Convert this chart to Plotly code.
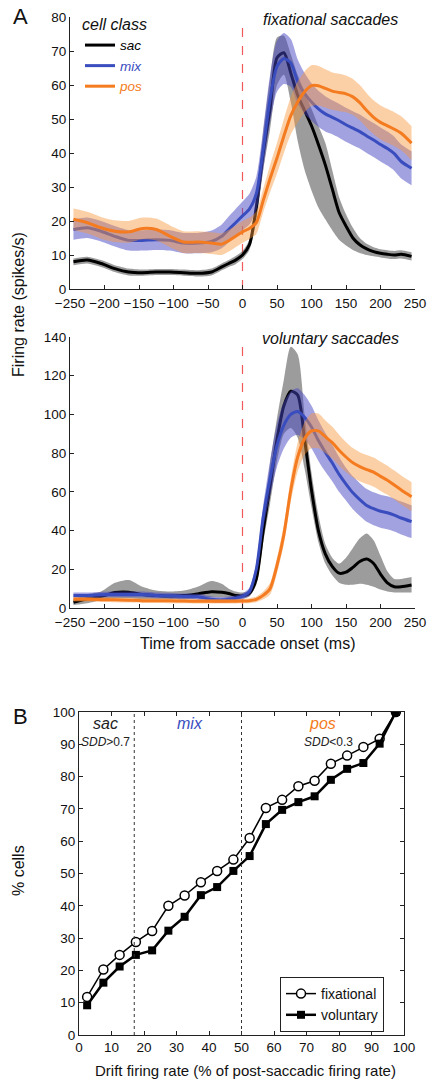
import plotly.graph_objects as go

# ---------------- data: panel A (time from saccade onset, ms) ----------------
T = [-245, -225, -205, -185, -165, -145, -125, -105, -85, -65, -45, -30, -20, -10, 0,
     10, 20, 30, 40, 50, 60, 70, 80, 90, 100, 110, 120, 130, 140, 150, 160, 170, 180,
     190, 200, 210, 220, 230, 245]

# fixational saccades
fix_sac_mean = [8.0, 8.5, 7.5, 6.0, 5.0, 4.8, 5.0, 5.0, 4.8, 4.6, 5.0, 6.5, 7.5, 8.5, 10.0,
                13.0, 24.0, 40.0, 53.0, 68.0, 69.5, 63.5, 57.0, 52.5, 48.0, 42.5, 36.5, 29.5, 22.5,
                18.5, 15.0, 13.0, 11.8, 11.0, 10.5, 10.2, 10.0, 10.2, 9.6]
fix_sac_lo = [7.0, 7.5, 6.5, 5.0, 4.0, 3.9, 4.1, 4.1, 3.9, 3.7, 4.0, 5.5, 6.5, 7.3, 8.8,
              11.5, 20.0, 35.0, 47.0, 60.0, 63.0, 55.0, 43.5, 35.0, 29.0, 24.0, 20.5, 17.3, 14.5,
              12.8, 11.5, 10.6, 10.0, 9.6, 9.3, 9.0, 8.8, 9.0, 8.4]
fix_sac_hi = [9.0, 9.5, 8.5, 7.0, 6.0, 5.7, 5.9, 5.9, 5.7, 5.5, 6.0, 7.5, 8.5, 9.7, 11.2,
              14.5, 28.0, 46.0, 62.0, 74.0, 74.5, 69.0, 63.0, 58.0, 53.0, 48.0, 43.0, 35.0, 27.0,
              22.0, 18.0, 15.0, 13.3, 12.3, 11.7, 11.4, 11.2, 11.4, 10.8]
fix_mix_mean = [17.5, 18.0, 17.0, 15.5, 14.3, 14.3, 14.5, 14.3, 13.5, 13.5, 14.0, 15.5, 17.5, 19.5, 21.5,
                23.5, 28.0, 41.0, 56.0, 65.5, 67.8, 66.5, 61.0, 57.5, 55.0, 53.0, 51.5, 50.5, 49.5,
                48.3, 47.3, 46.3, 45.0, 43.8, 42.5, 41.3, 39.8, 37.5, 35.5]
fix_mix_hw = [3, 3, 3, 3, 3, 3, 3, 3, 3, 3, 3.2, 3.5, 3.8, 4, 4.2,
              4.5, 5, 6, 7, 7.5, 7.5, 7, 6.5, 6, 5.5, 5.3, 5.2, 5, 5,
              5, 5, 5, 5, 5, 5, 5, 5, 5, 5]
fix_pos_mean = [20.5, 19.5, 18.0, 17.0, 16.8, 17.8, 17.5, 15.5, 13.8, 13.8, 13.5, 13.2, 14.2, 15.5, 16.8,
                17.8, 19.5, 26.0, 32.5, 38.5, 45.0, 51.0, 55.0, 58.0, 59.8, 59.8, 59.0, 58.2, 57.8,
                57.4, 56.5, 54.8, 52.5, 50.5, 49.0, 48.0, 47.0, 45.8, 42.9]
fix_pos_hw = [3.2, 3.2, 3.2, 3.2, 3.2, 3.2, 3.2, 3.2, 3.2, 3.2, 3.2, 3.2, 3.2, 3.2, 3.2,
              3.2, 3.3, 3.5, 4, 4.5, 5, 5.5, 6, 6, 6, 5.8, 5.6, 5.5, 5.5,
              5.4, 5.3, 5.2, 5.1, 5, 5, 5, 5, 5, 5]

# voluntary saccades
vol_sac_mean = [3.0, 4.8, 6.0, 8.0, 8.2, 7.0, 6.5, 6.2, 6.4, 7.3, 8.4, 8.1, 7.5, 6.5, 6.3,
                7.5, 15.0, 40.0, 63.0, 87.0, 104.5, 112.0, 110.0, 87.0, 61.0, 40.0, 28.0, 21.5, 18.0,
                18.5, 21.0, 24.0, 25.3, 23.0, 17.5, 13.0, 11.0, 11.0, 11.9]
vol_sac_lo = [1.5, 2.5, 4.0, 5.0, 5.0, 4.5, 4.5, 4.5, 4.5, 5.0, 5.5, 5.5, 5.2, 4.8, 5.0,
              6.0, 12.0, 34.0, 54.0, 76.0, 90.0, 93.0, 88.0, 72.0, 52.0, 34.0, 23.0, 17.0, 13.0,
              12.0, 12.0, 12.5, 12.0, 11.0, 9.5, 8.5, 8.0, 8.0, 8.0]
vol_sac_hi = [4.5, 7.0, 8.5, 13.0, 14.5, 11.0, 9.0, 8.5, 9.0, 11.0, 14.0, 12.5, 10.0, 8.5, 8.0,
              9.0, 18.0, 46.0, 75.0, 98.0, 118.0, 135.0, 131.0, 100.0, 70.0, 48.0, 33.0, 26.0, 23.0,
              26.0, 31.0, 36.0, 38.5, 35.0, 27.0, 19.0, 15.0, 15.0, 16.0]
vol_mix_mean = [6.5, 6.5, 6.8, 7.0, 7.0, 7.0, 6.5, 6.3, 6.0, 5.8, 4.5, 4.2, 4.5, 5.0, 6.0,
                8.5, 20.0, 47.0, 67.0, 84.0, 94.5, 100.0, 101.5, 98.5, 93.5, 86.5, 80.5, 75.0, 69.0,
                64.0, 59.5, 56.0, 53.0, 51.3, 50.0, 49.2, 48.0, 46.5, 44.6]
vol_mix_hw = [1.5, 1.5, 1.5, 1.5, 1.5, 1.5, 1.5, 1.5, 1.5, 1.5, 1.5, 1.5, 1.5, 1.5, 1.5,
              2, 3, 6, 9, 11, 12, 12, 12, 11.5, 11, 10.5, 10, 9.5, 9,
              8.5, 8.5, 8.5, 8.5, 8.5, 8.5, 8.5, 8.5, 8.5, 8.5]
vol_pos_mean = [4.5, 4.5, 4.3, 4.2, 4.0, 3.8, 3.8, 3.7, 3.6, 3.5, 3.5, 3.5, 3.5, 3.5, 3.6,
                3.8, 4.5, 6.5, 10.0, 22.0, 38.0, 61.0, 78.0, 87.5, 91.5, 91.5, 88.5, 85.5, 81.5,
                78.0, 75.0, 73.0, 71.5, 70.2, 68.0, 66.0, 63.5, 61.0, 57.5]
vol_pos_hw = [1.2, 1.2, 1.2, 1.2, 1.2, 1.2, 1.2, 1.2, 1.2, 1.2, 1.2, 1.2, 1.2, 1.2, 1.2,
              1.3, 1.5, 2, 3, 4, 5, 6, 7.5, 8.5, 9, 9, 8.5, 8.2, 8,
              7.8, 7.6, 7.5, 7.5, 7.5, 7.5, 7.5, 7.5, 7.5, 7.5]

X_TICKS_A = [-250, -200, -150, -100, -50, 0, 50, 100, 150, 200, 250]
ONSET = 0

# ---------------- data: panel B ----------------
drift_bins = [2.5, 7.5, 12.5, 17.5, 22.5, 27.5, 32.5, 37.5, 42.5, 47.5,
              52.5, 57.5, 62.5, 67.5, 72.5, 77.5, 82.5, 87.5, 92.5, 97.5]
pct_fixational = [11.8, 20.3, 24.8, 28.8, 32.2, 40.0, 43.2, 47.3, 50.8, 54.3,
                  61.0, 70.3, 72.8, 77.0, 78.7, 84.0, 86.5, 89.2, 91.7, 100.0]
pct_voluntary = [9.2, 16.2, 21.2, 24.8, 26.2, 32.3, 36.6, 43.3, 45.8, 50.8,
                 55.4, 65.3, 69.7, 72.1, 73.9, 79.0, 82.4, 84.2, 90.2, 100.0]
class_bounds = [17, 50]

# ---------------- styling ----------------
FONT = "Liberation Sans, Arial, sans-serif"
C_SAC, C_MIX, C_POS = "#000000", "#3a4dbf", "#f47b20"
B_SAC, B_MIX, B_POS = "rgba(90,90,90,0.6)", "rgba(70,70,195,0.5)", "rgba(248,150,60,0.45)"

fig = go.Figure()


def add_class(xa, ya, mean, lo, hi, lcolor, bcolor, name, show):
    fig.add_trace(go.Scatter(x=T, y=lo, mode="lines", line=dict(width=0, shape="spline", smoothing=0.7),
                             xaxis=xa, yaxis=ya, showlegend=False, hoverinfo="skip"))
    fig.add_trace(go.Scatter(x=T, y=hi, mode="lines", line=dict(width=0, shape="spline", smoothing=0.7),
                             fill="tonexty", fillcolor=bcolor,
                             xaxis=xa, yaxis=ya, showlegend=False, hoverinfo="skip"))
    fig.add_trace(go.Scatter(x=T, y=mean, mode="lines",
                             line=dict(color=lcolor, width=3, shape="spline", smoothing=0.7),
                             xaxis=xa, yaxis=ya, name=name, showlegend=show, legend="legend"))


def lohi(mean, hw):
    return [m - h for m, h in zip(mean, hw)], [m + h for m, h in zip(mean, hw)]


sac_name = '<span style="color:#000000"><i>sac</i></span>'
mix_name = '<span style="color:#3a4dbf"><i>mix</i></span>'
pos_name = '<span style="color:#f47b20"><i>pos</i></span>'

add_class("x", "y", fix_sac_mean, fix_sac_lo, fix_sac_hi, C_SAC, B_SAC, sac_name, True)
lo, hi = lohi(fix_mix_mean, fix_mix_hw)
add_class("x", "y", fix_mix_mean, lo, hi, C_MIX, B_MIX, mix_name, True)
lo, hi = lohi(fix_pos_mean, fix_pos_hw)
add_class("x", "y", fix_pos_mean, lo, hi, C_POS, B_POS, pos_name, True)

add_class("x2", "y2", vol_sac_mean, vol_sac_lo, vol_sac_hi, C_SAC, B_SAC, sac_name, False)
lo, hi = lohi(vol_mix_mean, vol_mix_hw)
add_class("x2", "y2", vol_mix_mean, lo, hi, C_MIX, B_MIX, mix_name, False)
lo, hi = lohi(vol_pos_mean, vol_pos_hw)
add_class("x2", "y2", vol_pos_mean, lo, hi, C_POS, B_POS, pos_name, False)

# panel B
fig.add_trace(go.Scatter(x=drift_bins, y=pct_fixational, mode="lines+markers", name="fixational",
                         line=dict(color="black", width=1.5),
                         marker=dict(symbol="circle", size=9, color="white", line=dict(color="black", width=1.5)),
                         xaxis="x3", yaxis="y3", legend="legend2"))
fig.add_trace(go.Scatter(x=drift_bins, y=pct_voluntary, mode="lines+markers", name="voluntary",
                         line=dict(color="black", width=2.5),
                         marker=dict(symbol="square", size=8, color="black"),
                         xaxis="x3", yaxis="y3", legend="legend2"))

W, H = 430, 1083


def px_x(p):
    return p / W


def px_y(p):
    return 1 - p / H


axA = dict(showline=True, linecolor="#222", linewidth=1, ticks="inside", ticklen=4, tickcolor="#222",
           showgrid=False, zeroline=False, tickfont=dict(size=13.5, color="#111"), automargin=False)
axB = dict(axA, mirror="ticks")

fig.update_layout(
    width=W, height=H, template="none",
    margin=dict(l=0, r=0, t=0, b=0),
    paper_bgcolor="white", plot_bgcolor="white",
    font=dict(family=FONT, color="#111"),
    xaxis=dict(axA, domain=[px_x(70), px_x(415)], range=[-250, 250], tickvals=X_TICKS_A, anchor="y",
               ticklabelstandoff=2),
    yaxis=dict(axA, domain=[px_y(289), px_y(17)], range=[0, 80], dtick=10, anchor="x"),
    xaxis2=dict(axA, domain=[px_x(70), px_x(415)], range=[-250, 250], tickvals=X_TICKS_A, anchor="y2",
                ticklabelstandoff=2),
    yaxis2=dict(axA, domain=[px_y(608), px_y(337)], range=[0, 140], dtick=20, anchor="x2"),
    xaxis3=dict(axB, domain=[px_x(79), px_x(404)], range=[0, 100], dtick=10, anchor="y3"),
    yaxis3=dict(axB, domain=[px_y(1035), px_y(712)], range=[0, 100], dtick=10, anchor="x3"),
    legend=dict(x=px_x(80), y=px_y(9), xanchor="left", yanchor="top", bgcolor="rgba(0,0,0,0)",
                title=dict(text="<i>cell class</i>", font=dict(size=16, color="#111")),
                font=dict(size=13.5), tracegroupgap=0, itemwidth=30, traceorder="normal"),
    legend2=dict(x=px_x(280), y=px_y(977), xanchor="left", yanchor="top", bgcolor="white",
                 bordercolor="#222", borderwidth=1, font=dict(size=14), itemwidth=30,
                 traceorder="normal"),
    showlegend=True,
)

# stimulus onset lines and class boundaries
for xa, ya in (("x", "y"), ("x2", "y2")):
    fig.add_shape(type="line", xref=xa, yref=ya + " domain", x0=ONSET, x1=ONSET, y0=0, y1=0.97,
                  line=dict(color="#f05a5a", width=1.2, dash="dash"), layer="below")
for b in class_bounds:
    fig.add_shape(type="line", xref="x3", yref="y3 domain", x0=b, x1=b, y0=0, y1=1,
                  line=dict(color="#333", width=1, dash="dot"))

ann = [
    dict(text="A", x=px_x(20), y=px_y(17), size=22),
    dict(text="B", x=px_x(20), y=px_y(716), size=22),
    dict(text="<i>fixational saccades</i>", x=px_x(330), y=px_y(19), size=16),
    dict(text="<i>voluntary saccades</i>", x=px_x(330), y=px_y(338), size=16),
    dict(text="Time from saccade onset (ms)", x=px_x(247), y=px_y(643), size=16),
    dict(text="Drift firing rate (% of post-saccadic firing rate)", x=px_x(245), y=px_y(1070), size=15),
    dict(text="Firing rate (spikes/s)", x=px_x(18), y=px_y(305), size=16, angle=-90),
    dict(text="% cells", x=px_x(18), y=px_y(871), size=16, angle=-90),
]
for a in ann:
    fig.add_annotation(text=a["text"], x=a["x"], y=a["y"], xref="paper", yref="paper",
                       showarrow=False, font=dict(size=a["size"], color="#111"),
                       textangle=a.get("angle", 0), xanchor="center", yanchor="middle")

labelsB = [
    ("<i>sac</i>", 8, 96.5, 16, "#222"),
    ("<i>mix</i>", 34.3, 96.5, 16, C_MIX),
    ("<i>pos</i>", 75, 96.5, 16, C_POS),
    ("<i>SDD</i>>0.7", 8.3, 90.6, 12, "#222"),
    ("<i>SDD</i><0.3", 76.7, 90.6, 12, "#222"),
]
for t, x, y, s, c in labelsB:
    fig.add_annotation(text=t, x=x, y=y, xref="x3", yref="y3", showarrow=False,
                       font=dict(size=s, color=c), xanchor="center", yanchor="middle")

fig.write_html("out.html", config={"displayModeBar": False},
               post_script="document.body.style.margin='0';document.body.style.overflow='hidden';")
